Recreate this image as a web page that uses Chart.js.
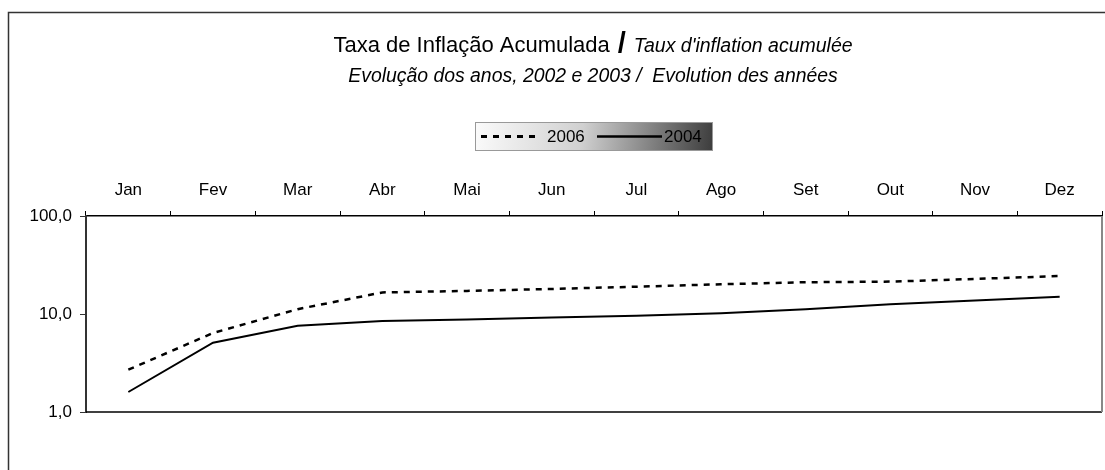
<!DOCTYPE html>
<html>
<head>
<meta charset="utf-8">
<script src="https://cdn.jsdelivr.net/npm/chart.js@4/dist/chart.umd.min.js"></script>
<style>
  html, body { margin: 0; padding: 0; background: #fff; }
</style>
</head>
<body>
<canvas id="inflationChart" width="1105" height="470"></canvas>
<script>
var months = ['Jan', 'Fev', 'Mar', 'Abr', 'Mai', 'Jun', 'Jul', 'Ago', 'Set', 'Out', 'Nov', 'Dez'];
var values2006 = [2.7, 6.4, 11.2, 16.6, 17.2, 18.0, 19.0, 20.1, 21.1, 21.4, 22.8, 24.4];
var values2004 = [1.6, 5.1, 7.6, 8.5, 8.8, 9.2, 9.6, 10.2, 11.2, 12.6, 13.7, 15.0];
var yTicks = [1, 10, 100];

var FONT = '"Liberation Sans", Arial, sans-serif';

// title, frame, legend and the plot's bottom/right border
var decorations = {
  id: 'decorations',
  afterDraw: function(chart) {
    var ctx = chart.ctx;
    var area = chart.chartArea;
    ctx.save();

    // outer frame
    ctx.strokeStyle = '#333';
    ctx.lineWidth = 1.5;
    ctx.strokeRect(8.5, 12.5, 1110, 480);

    // plot area bottom + right
    ctx.beginPath();
    ctx.strokeStyle = '#000';
    ctx.lineWidth = 1.5;
    ctx.moveTo(area.left, area.bottom);
    ctx.lineTo(area.right, area.bottom);
    ctx.stroke();
    ctx.beginPath();
    ctx.strokeStyle = '#888';
    ctx.lineWidth = 2;
    ctx.moveTo(area.right, area.top);
    ctx.lineTo(area.right, area.bottom);
    ctx.stroke();

    // title line 1
    ctx.fillStyle = '#000';
    ctx.textBaseline = 'alphabetic';
    ctx.textAlign = 'left';
    var t1 = 'Taxa de Inflação Acumulada', t2 = 'Taux d\'inflation acumulée';
    var f1 = '22px ' + FONT, fs = 'bold 29px ' + FONT, f2 = 'italic 19.5px ' + FONT;
    ctx.font = f1; var w1 = ctx.measureText(t1).width;
    ctx.font = fs; var ws = ctx.measureText('/').width;
    ctx.font = f2; var w2 = ctx.measureText(t2).width;
    var gap = 8;
    var x = 593 - (w1 + gap + ws + gap + w2) / 2;
    ctx.font = f1; ctx.fillText(t1, x, 52);
    x += w1 + gap;
    ctx.font = fs; ctx.fillText('/', x, 53);
    x += ws + gap;
    ctx.font = f2; ctx.fillText(t2, x, 52);

    // title line 2
    ctx.font = 'italic 19.4px ' + FONT;
    ctx.textAlign = 'center';
    ctx.fillText('Evolução dos anos, 2002 e 2003 /  Evolution des années', 593, 82);

    // legend box
    var lx = 475, ly = 122, lw = 238, lh = 29;
    var g = ctx.createLinearGradient(lx, ly, lx + lw, ly + lh);
    g.addColorStop(0, '#fbfbfb');
    g.addColorStop(0.45, '#d0d0d0');
    g.addColorStop(1, '#3c3c3c');
    ctx.fillStyle = g;
    ctx.fillRect(lx, ly, lw, lh);
    ctx.strokeStyle = '#999';
    ctx.lineWidth = 1;
    ctx.strokeRect(lx + 0.5, ly + 0.5, lw - 1, lh - 1);

    var ds = chart.data.datasets;
    var items = [{x1: 481, x2: 537, tx: 547}, {x1: 597, x2: 662, tx: 664}];
    var cy = ly + lh / 2;
    items.forEach(function(it, i) {
      ctx.beginPath();
      ctx.strokeStyle = '#000';
      ctx.lineWidth = ds[i].borderWidth + 0.5;
      ctx.setLineDash(ds[i].borderDash || []);
      ctx.moveTo(it.x1, cy);
      ctx.lineTo(it.x2, cy);
      ctx.stroke();
      ctx.setLineDash([]);
      ctx.fillStyle = '#000';
      ctx.font = '17px ' + FONT;
      ctx.textAlign = 'left';
      ctx.textBaseline = 'middle';
      ctx.fillText(ds[i].label, it.tx, cy + 1);
    });

    ctx.restore();
  }
};

new Chart(document.getElementById('inflationChart').getContext('2d'), {
  type: 'line',
  data: {
    labels: months,
    datasets: [{
      label: '2006',
      data: values2006,
      borderColor: '#000',
      borderWidth: 2.5,
      borderDash: [6, 6],
      pointRadius: 0,
      tension: 0,
      fill: false
    }, {
      label: '2004',
      data: values2004,
      borderColor: '#000',
      borderWidth: 2,
      pointRadius: 0,
      tension: 0,
      fill: false
    }]
  },
  options: {
    responsive: false,
    animation: false,
    devicePixelRatio: 1,
    layout: { padding: { left: 0, top: 0, right: 3, bottom: 58 } },
    plugins: {
      legend: { display: false },
      title: { display: false },
      tooltip: { enabled: false }
    },
    scales: {
      x: {
        position: 'top',
        offset: true,
        afterFit: function(s) { s.height = 216; },
        grid: {
          offset: true,
          drawOnChartArea: false,
          tickLength: 5,
          color: '#000',
          lineWidth: 1
        },
        border: { color: '#000', width: 1.5 },
        ticks: {
          color: '#000',
          padding: 10,
          maxRotation: 0,
          font: { family: FONT, size: 17 }
        }
      },
      y: {
        type: 'logarithmic',
        min: 1,
        max: 100,
        afterFit: function(s) { s.width = 86; },
        afterBuildTicks: function(s) {
          s.ticks = yTicks.map(function(v) { return { value: v }; });
        },
        grid: {
          drawOnChartArea: false,
          tickLength: 6,
          color: '#333',
          lineWidth: 1
        },
        border: { color: '#333', width: 2 },
        ticks: {
          color: '#000',
          padding: 8,
          font: { family: FONT, size: 17 },
          callback: function(v) { return Number(v).toFixed(1).replace('.', ','); }
        }
      }
    }
  },
  plugins: [decorations]
});
</script>
</body>
</html>
